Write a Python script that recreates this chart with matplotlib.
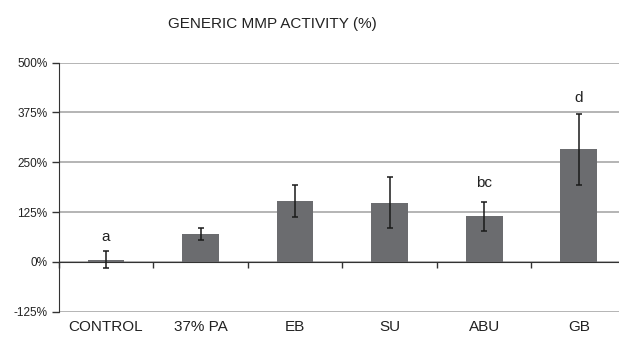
import numpy as np
import matplotlib
matplotlib.use("Agg")
import matplotlib.pyplot as plt
from matplotlib.ticker import FixedLocator

plt.rcParams['font.family'] = ['Liberation Sans', 'DejaVu Sans']

# data
groups = ["CONTROL", "37% PA", "EB", "SU", "ABU", "GB"]
means = [6, 70, 153, 149, 114, 283]
errs = [21, 15, 41, 63, 37, 89]
letters = ["a", "", "", "", "bc", "d"]
letter_y = [63, 0, 0, 0, 198, 411]
yticks = [-125, 0, 125, 250, 375, 500]

fig = plt.figure(figsize=(6.19, 3.38), dpi=100)
ax = fig.add_axes([0.0948, 0.0778, 0.9165, 0.7367])

x = np.arange(len(groups))
ax.bar(x, means, width=0.39, color="#6b6c6f", zorder=3)
ax.errorbar(x, means, yerr=errs, fmt="none", ecolor="#1a1a1a",
            elinewidth=1.1, capsize=2.3, capthick=1.1, zorder=4)

# significance letters
for xi, t, ty in zip(x, letters, letter_y):
    if t:
        ax.text(xi, ty, t, ha="center", va="center", fontsize=11, color="#222222")

ax.set_xlim(-0.5, len(groups) - 0.5)
ax.set_ylim(-125, 500)
ax.set_yticks(yticks)
ax.set_yticklabels([f"{v}%" for v in yticks], fontsize=8.5, color="#222222")
ax.yaxis.grid(True, color="#a0a0a0", linewidth=1.1, zorder=0)
ax.tick_params(axis="y", length=5, width=1, color="#333333", pad=3)

# category axis sits on the zero line, labels below the plot
ax.spines["bottom"].set_position(("data", 0))
ax.spines["bottom"].set_color("#333333")
ax.spines["left"].set_color("#333333")
ax.spines["top"].set_visible(False)
ax.spines["right"].set_visible(False)
ax.xaxis.set_major_locator(FixedLocator(np.arange(len(groups) + 1) - 0.5))
ax.tick_params(axis="x", length=4, width=1, color="#333333", labelbottom=False)
for xi, g in zip(x, groups):
    ax.annotate(g, (xi, -125), xytext=(0, -8), textcoords="offset pixels",
                ha="center", va="top", fontsize=11, color="#222222",
                annotation_clip=False)

fig.text(0.44, 0.928, "GENERIC MMP ACTIVITY (%)", ha="center", va="center",
         fontsize=11, color="#222222")

plt.savefig("out.png", dpi=100)
